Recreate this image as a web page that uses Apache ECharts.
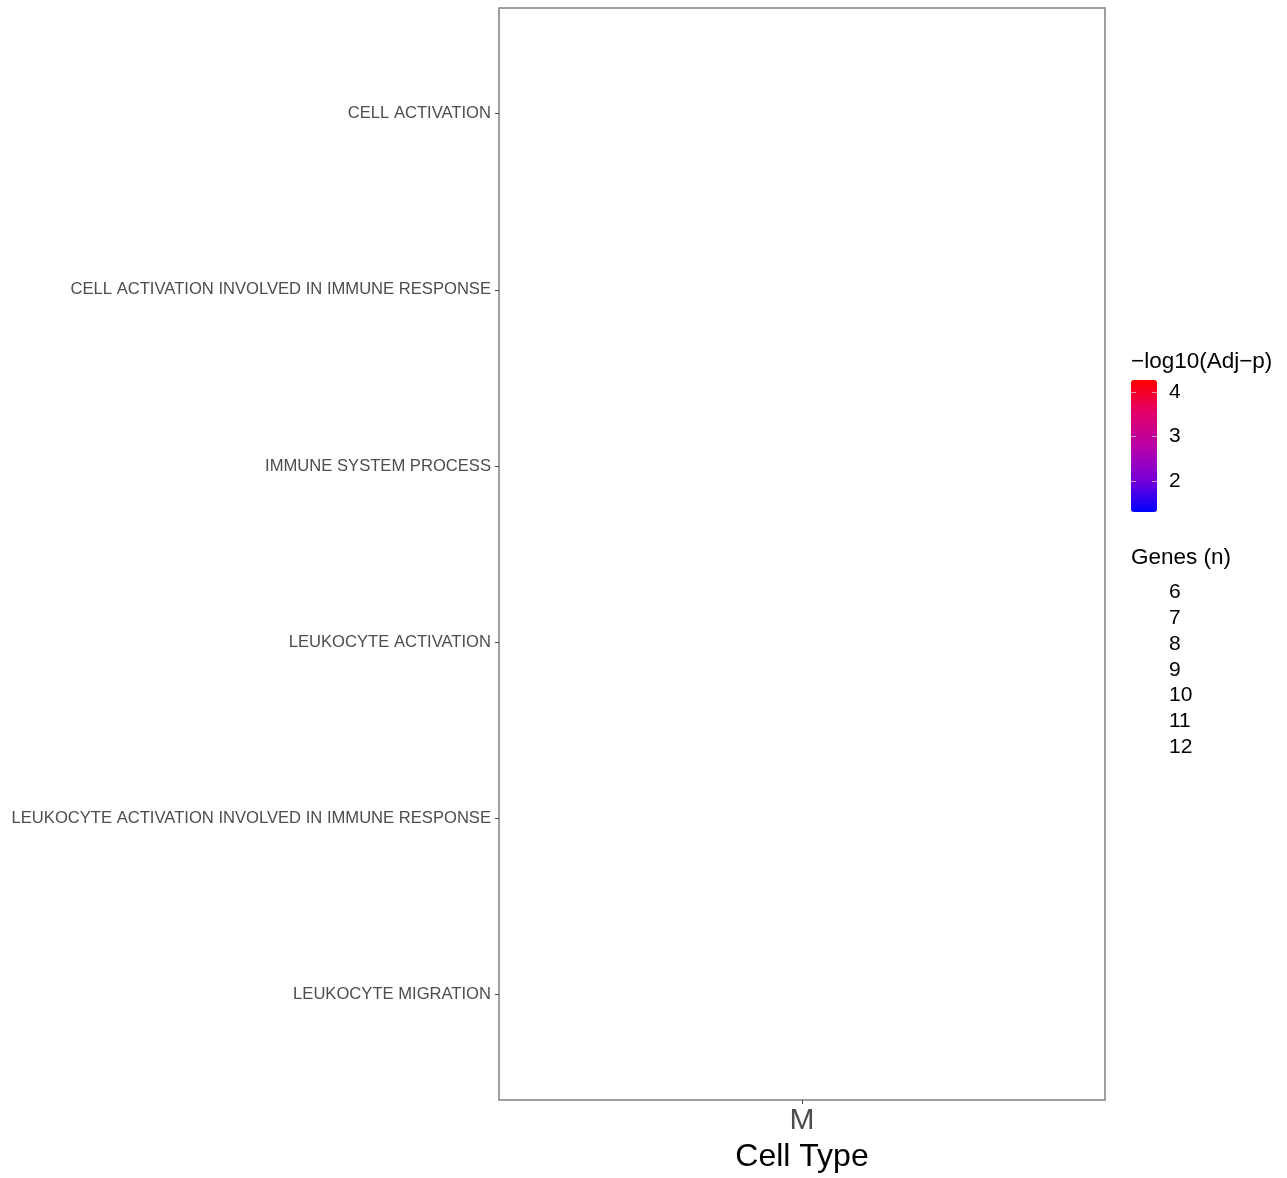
<!DOCTYPE html>
<html>
<head>
<meta charset="utf-8">
<script src="https://cdn.jsdelivr.net/npm/echarts@6/dist/echarts.min.js"></script>
<style>
html,body{margin:0;padding:0;background:#fff;}
#chart{width:1287px;height:1178px;}
</style>
</head>
<body>
<div id="chart"></div>
<script>
// ---- data ----
var terms = [
  'CELL ACTIVATION',
  'CELL ACTIVATION INVOLVED IN IMMUNE RESPONSE',
  'IMMUNE SYSTEM PROCESS',
  'LEUKOCYTE ACTIVATION',
  'LEUKOCYTE ACTIVATION INVOLVED IN IMMUNE RESPONSE',
  'LEUKOCYTE MIGRATION'
];
var cellTypes = ['M'];
// points: [cellTypeIndex, termIndex, -log10(adj p), genes] -- none are visible in the reference
var pointValues = [];
var colorTicks = [2, 3, 4];
var colorRange = [1.30, 4.28];
var sizeTicks = ['6', '7', '8', '9', '10', '11', '12'];

var FONT = '"Liberation Sans", Arial, sans-serif';
var termIdx = terms.map(function (_, i) { return i; });

var graphics = [];
graphics.push({type: 'text', left: 1131, top: 350, style: {text: '\u2212log10(Adj\u2212p)', font: '22.5px ' + FONT, fill: '#000'}});
graphics.push({type: 'text', left: 1131, top: 546, style: {text: 'Genes (n)', font: '22.5px ' + FONT, fill: '#000'}});
sizeTicks.forEach(function (t, i) {
  graphics.push({type: 'text', left: 1169, top: 582 + i * 25.8, style: {text: t, font: '21px ' + FONT, fill: '#000'}});
});

var chart = echarts.init(document.getElementById('chart'), null, {renderer: 'canvas'});
chart.setOption({
  backgroundColor: '#fff',
  animation: false,
  textStyle: {fontFamily: FONT},
  grid: [
    {left: 499, top: 8, width: 606, height: 1092, show: true, borderColor: '#808080', borderWidth: 1.5, backgroundColor: '#fff'},
    {left: 1131, top: 380, width: 26, height: 132, show: false}
  ],
  xAxis: [
    {
      gridIndex: 0, type: 'category', data: cellTypes, boundaryGap: true,
      axisLine: {show: false, onZero: false},
      axisTick: {show: true, alignWithLabel: true, length: 4, lineStyle: {color: '#444'}},
      axisLabel: {fontSize: 30, color: '#4d4d4d', margin: 6},
      splitLine: {show: false},
      name: 'Cell Type', nameLocation: 'middle', nameGap: 36,
      nameTextStyle: {fontSize: 32, color: '#000'}
    },
    {gridIndex: 1, type: 'value', show: false}
  ],
  yAxis: [
    {
      gridIndex: 0, type: 'value', inverse: true, min: -0.6, max: terms.length - 1 + 0.6,
      axisLine: {show: false, onZero: false},
      splitLine: {show: false},
      axisTick: {show: true, length: 4, customValues: termIdx, lineStyle: {color: '#444'}},
      axisLabel: {fontSize: 16.6, color: '#4d4d4d', margin: 8, padding: [6, 0, 0, 0], customValues: termIdx,
        formatter: function (v) { return terms[Math.round(v)]; }}
    },
    {
      gridIndex: 1, type: 'value', min: colorRange[0], max: colorRange[1], position: 'right', z: 20,
      axisLine: {show: false, onZero: false}, splitLine: {show: false},
      axisTick: {show: true, inside: true, length: 5, customValues: colorTicks, lineStyle: {color: '#fff', width: 1, opacity: 0.6}},
      axisLabel: {show: true, customValues: colorTicks, fontSize: 21, color: '#000', margin: 12}
    },
    {
      gridIndex: 1, type: 'value', min: colorRange[0], max: colorRange[1], position: 'left', z: 20,
      axisLine: {show: false, onZero: false}, splitLine: {show: false},
      axisTick: {show: true, inside: true, length: 5, customValues: colorTicks, lineStyle: {color: '#fff', width: 1, opacity: 0.6}},
      axisLabel: {show: false}
    }
  ],
  visualMap: [{
    type: 'continuous', seriesIndex: 0, dimension: 2,
    min: colorRange[0], max: colorRange[1],
    left: 1131, top: 380, itemWidth: 26, itemHeight: 132, padding: 0, z: 2,
    calculable: false, realtime: false, text: null, showLabel: false, hoverLink: false,
    inRange: {color: ['#0000FF', '#7A00D6', '#B800A8', '#E2006A', '#FF0000']}
  }],
  graphic: graphics,
  series: [{
    type: 'scatter', xAxisIndex: 0, yAxisIndex: 0,
    data: pointValues,
    symbolSize: function (d) { return d[3] * 2; }
  }]
});
</script>
</body>
</html>
